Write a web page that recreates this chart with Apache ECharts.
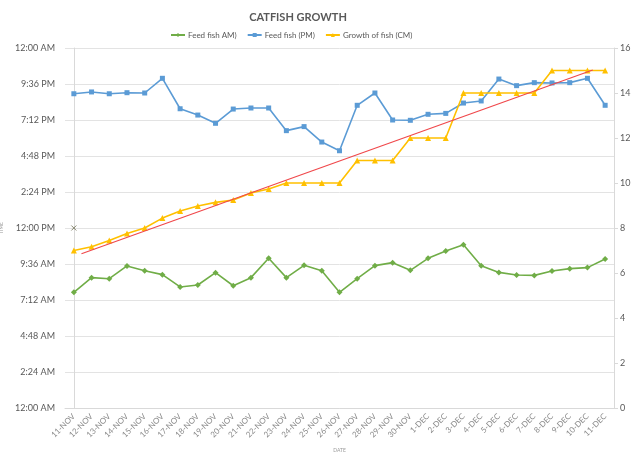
<!DOCTYPE html>
<html>
<head>
<meta charset="utf-8">
<script src="https://cdn.jsdelivr.net/npm/echarts@6/dist/echarts.min.js"></script>
<style>
html, body { margin: 0; padding: 0; background: #fff; }
#chart { width: 640px; height: 453px; }
</style>
</head>
<body>
<div id="chart"></div>
<script>
// dates on the x axis
var dates = ['11-NOV','12-NOV','13-NOV','14-NOV','15-NOV','16-NOV','17-NOV','18-NOV','19-NOV','20-NOV',
  '21-NOV','22-NOV','23-NOV','24-NOV','25-NOV','26-NOV','27-NOV','28-NOV','29-NOV','30-NOV',
  '1-DEC','2-DEC','3-DEC','4-DEC','5-DEC','6-DEC','7-DEC','8-DEC','9-DEC','10-DEC','11-DEC'];

// feeding times, in hours of the day
var feedAM = [7.71, 8.69, 8.62, 9.47, 9.15, 8.89, 8.07, 8.2, 9.02, 8.15,
  8.69, 9.98, 8.69, 9.51, 9.15, 7.71, 8.62, 9.49, 9.69, 9.18,
  9.98, 10.47, 10.89, 9.49, 9.04, 8.87, 8.84, 9.13, 9.29, 9.36, 9.93];
var feedPM = [20.95, 21.07, 20.95, 21.02, 21.0, 21.98, 19.95, 19.53, 18.98, 19.93,
  20.0, 20.0, 18.49, 18.76, 17.73, 17.15, 20.18, 21.0, 19.2, 19.18,
  19.58, 19.64, 20.33, 20.47, 21.93, 21.49, 21.69, 21.67, 21.69, 21.98, 20.18];

// fish length, cm
var growth = [7, 7.17, 7.44, 7.76, 8, 8.44, 8.76, 8.98, 9.14, 9.24,
  9.56, 9.73, 10, 10, 10, 10, 11, 11, 11, 12,
  12, 12, 14, 14, 14, 14, 14, 15, 15, 15, 15];

// stray point at 11-NOV, 12:00 PM
var strayMark = [[0, 12]];

// where the trendline starts and ends (category index)
var trendFrom = 0.43;
var trendTo = 29.3;

var timeLabels = ['12:00 AM','2:24 AM','4:48 AM','7:12 AM','9:36 AM','12:00 PM',
  '2:24 PM','4:48 PM','7:12 PM','9:36 PM','12:00 AM'];
var cmLabels = [0, 2, 4, 6, 8, 10, 12, 14, 16];

// least squares line for growth
function trendLine(ys){
    var n = ys.length, sx = 0, sy = 0, sxy = 0, sxx = 0;
    ys.forEach(function(y, i){ sx += i; sy += y; sxy += i * y; sxx += i * i; });
    var b = (n * sxy - sx * sy) / (n * sxx - sx * sx);
    var a = (sy - b * sx) / n;
    return [[trendFrom, a + b * trendFrom], [trendTo, a + b * trendTo]];
}

var txt = '#595959';
var fontFam = 'Lato, sans-serif';

var chart = echarts.init(document.getElementById('chart'));
chart.setOption({
    animation: false,
    textStyle: { fontFamily: fontFam },
    title: {
        text: 'CATFISH GROWTH',
        left: 293, top: 7, textAlign: 'center',
        textStyle: { color: txt, fontSize: 11, fontWeight: 'bold', fontFamily: fontFam }
    },
    legend: {
        top: 26, left: 165,
        itemWidth: 14, itemHeight: 5, itemGap: 10,
        textStyle: { color: txt, fontSize: 8, padding: [0, 0, 0, -2] },
        data: ['Feed fish AM)', 'Feed fish (PM)', 'Growth of fish (CM)']
    },
    grid: { left: 65, right: 26, top: 48, bottom: 45, outerBoundsMode: 'none' },
    xAxis: [{
        type: 'category',
        data: dates,
        boundaryGap: true,
        name: 'DATE',
        nameLocation: 'middle',
        nameGap: 40,
        nameTextStyle: { fontSize: 5, color: '#999' },
        axisLine: { lineStyle: { color: '#d9d9d9' } },
        axisTick: { show: false },
        axisLabel: { rotate: 45, color: '#8a8a8a', fontSize: 8, interval: 0, margin: 7 }
    }, {
        type: 'value',
        min: -0.5, max: dates.length - 0.5,
        show: false
    }],
    yAxis: [{
        type: 'value',
        min: 0, max: 24, interval: 2.4,
        name: 'TIME',
        nameLocation: 'middle',
        nameGap: 52,
        nameTextStyle: { fontSize: 5, color: '#999' },
        axisLine: { show: true, lineStyle: { color: '#d9d9d9' } },
        axisTick: { show: false },
        splitLine: { lineStyle: { color: '#e3e3e3' } },
        axisLabel: {
            color: txt, fontSize: 9, margin: 10,
            formatter: function(v){ return timeLabels[Math.round(v / 2.4)]; }
        }
    }, {
        type: 'value',
        min: 0, max: 16, interval: 2,
        name: 'CM',
        nameLocation: 'middle',
        nameGap: 22,
        nameTextStyle: { fontSize: 5, color: '#ddd' },
        axisLine: { show: true, lineStyle: { color: '#d9d9d9' } },
        axisTick: { show: true, length: 4, inside: false, lineStyle: { color: '#d9d9d9' } },
        splitLine: { show: false },
        axisLabel: {
            color: txt, fontSize: 9, margin: 6,
            formatter: function(v){ return String(cmLabels[Math.round(v / 2)]); }
        }
    }],
    series: [{
        name: 'Feed fish AM)',
        type: 'line',
        data: feedAM,
        color: '#70AD47',
        symbol: 'diamond', symbolSize: 6,
        lineStyle: { width: 1.6 }
    }, {
        name: 'Feed fish (PM)',
        type: 'line',
        data: feedPM,
        color: '#5B9BD5',
        symbol: 'rect', symbolSize: 5,
        lineStyle: { width: 1.6 }
    }, {
        name: 'Growth of fish (CM)',
        type: 'line',
        yAxisIndex: 1,
        data: growth,
        color: '#FFC000',
        symbol: 'triangle', symbolSize: 6,
        lineStyle: { width: 1.6 },
        z: 3
    }, {
        name: 'trend',
        type: 'line',
        xAxisIndex: 1,
        yAxisIndex: 1,
        data: trendLine(growth),
        color: '#F0484B',
        symbol: 'none',
        lineStyle: { width: 1.2 },
        z: 4
    }, {
        name: 'stray',
        type: 'scatter',
        data: strayMark,
        symbol: 'path://M0,0L10,10M10,0L0,10',
        symbolSize: 5,
        itemStyle: { color: 'none', borderColor: '#6b6b4f', borderWidth: 1 }
    }]
});
</script>
</body>
</html>
